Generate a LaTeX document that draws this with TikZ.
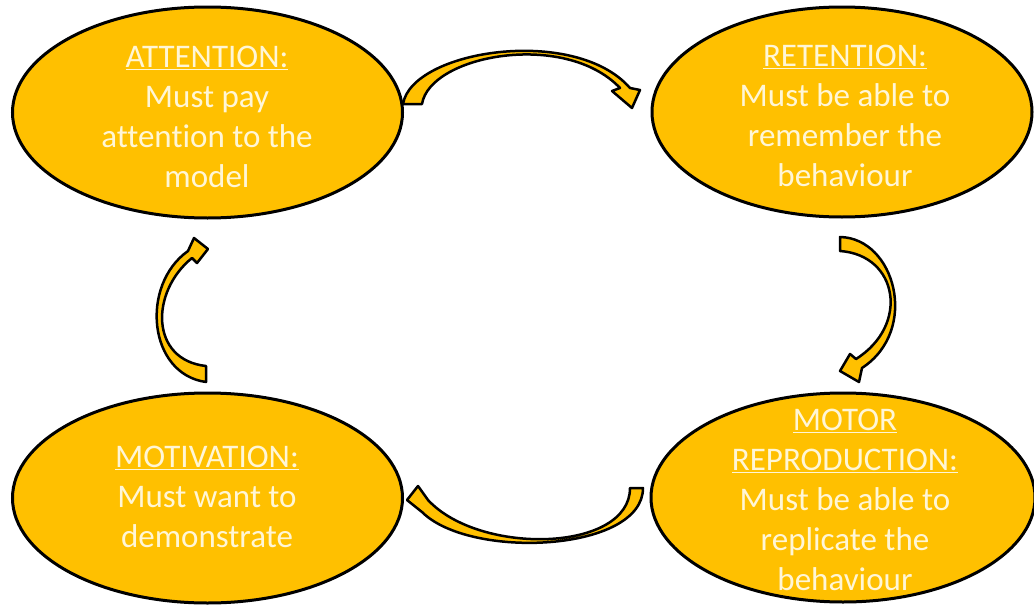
\documentclass[tikz,border=0pt]{standalone}
\usepackage{fontspec}
\setmainfont[Ligatures=NoCommon]{Carlito}
\usetikzlibrary{shapes.geometric}
\definecolor{gold}{RGB}{255,192,0}
\definecolor{cream}{RGB}{255,246,214}
\tikzset{
  bubble/.style={ellipse, draw=black, line width=3pt, fill=gold, inner sep=0pt},
  label/.style={text=cream, align=center, font=\fontsize{33}{40}\selectfont, inner sep=0pt},
  curvearrow/.style={draw=black, line width=2.5pt, fill=gold, line join=round}
}
\newcommand{\hd}[1]{\underline{#1}}
\begin{document}
\begin{tikzpicture}[x=1pt,y=-1pt]
\useasboundingbox (0,0) rectangle (1034,605);
\node[bubble, minimum width=390, minimum height=211] (att) at (207.5,112.5) {};
\node[bubble, minimum width=380, minimum height=210] (ret) at (842,112) {};
\node[bubble, minimum width=390, minimum height=210] (mot) at (207.5,498) {};
\node[bubble, minimum width=384, minimum height=209] (rep) at (843,497.5) {};

\node[label] (attT) at (207,117) {\hd{ATTENTION:}\\Must pay\\attention to the\\model};
\node[label] (retT) at (845,116) {\hd{RETENTION:}\\Must be able to\\remember the\\behaviour};
\node[label] (motT) at (207,497) {\hd{MOTIVATION:}\\Must want to\\demonstrate};
\node[label] (repT) at (845,500) {\hd{MOTOR}\\\hd{REPRODUCTION:}\\Must be able to\\replicate the\\behaviour};

% top arrow: attention -> retention
\draw[curvearrow] (403,104) .. controls (412,50) and (575,25) .. (630,88)
  -- (640,90) -- (632,108) -- (612,91) -- (620,88)
  .. controls (565,30) and (430,55) .. (422,104) -- cycle;
% right arrow: retention -> motor reproduction
\draw[curvearrow] (840,237) .. controls (895,238) and (920,330) .. (862,368)
  -- (859,382) -- (840,371) -- (850,354) -- (856,359)
  .. controls (910,325) and (898,255) .. (840,251) -- cycle;
% bottom arrow: motor reproduction -> motivation
\draw[curvearrow] (643,488) .. controls (643,552) and (470,560) .. (422,512)
  -- (407,500) -- (418,486) -- (428,500)
  .. controls (480,556) and (630,552) .. (630,488) -- cycle;
% left arrow: motivation -> attention
\draw[curvearrow] (206,382) .. controls (148,374) and (140,285) .. (188,251)
  -- (194,238) -- (208,249) -- (197,263) -- (192,258)
  .. controls (150,292) and (150,360) .. (206,366) -- cycle;
\end{tikzpicture}
\end{document}
